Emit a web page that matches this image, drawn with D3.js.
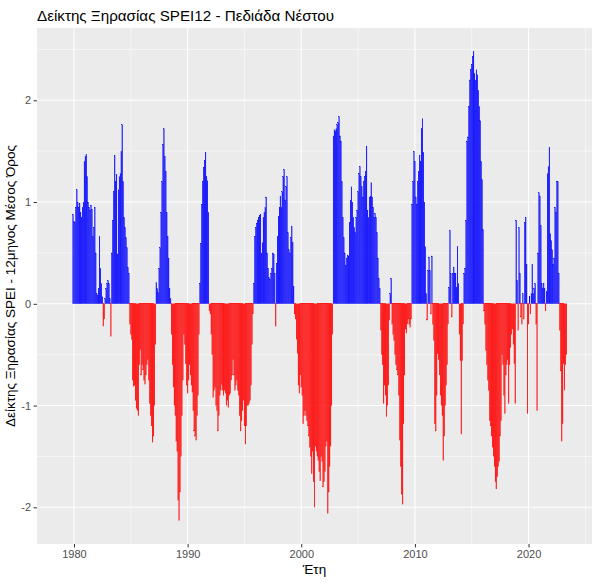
<!DOCTYPE html>
<html>
<head>
<meta charset="utf-8">
<script src="https://cdn.jsdelivr.net/npm/d3@7"></script>
<style>
  body { margin: 0; background: #fff; }
  text { font-family: "Liberation Sans", Arial, sans-serif; }
</style>
</head>
<body>
<div id="chart"></div>
<script>
// monthly SPEI12, series begins Jan 1979 (first 11 months undefined)
var seriesStartYear = 1979;
var spei1979 = [null, null, null, null, null, null, null, null, null, null, null, 0.88];
var spei1980s = [
  0.81, 0.80, 0.95, 1.12, 1.00, 0.95, 0.99, 0.90, 0.85, 0.95, 1.00, 1.40,
  1.45, 1.47, 1.25, 1.00, 0.95, 0.92, 0.97, 0.93, 0.66, 0.75, 0.95, 0.50,
  0.10, 0.08, 0.15, 0.66, 0.35, 0.20, 0.07, -0.22, -0.15, 0.05, 0.15, 0.20,
  0.23, 0.20, 0.05, -0.32, 0.50, 0.82, 1.10, 1.46, 1.20, 1.27, 0.49, 1.12,
  1.25, 1.28, 1.50, 1.76, 1.20, 0.85, 0.75, 0.65, 0.55, 0.36, 0.30, -0.20,
  -0.30, -0.35, -0.75, -0.81, -0.80, -0.95, -1.03, -1.05, -1.10, -0.60, -0.45, -0.70,
  -0.60, -0.65, -0.75, -0.79, -0.70, -0.60, -0.55, -0.75, -0.98, -1.10, -1.20, -1.36,
  -1.30, -1.00, -0.40, 0.21, 0.15, 0.11, 0.35, 0.55, 0.90, 1.20, 1.57, 1.72,
  1.45, 1.30, 0.90, 0.66, 0.45, 0.15, 0.05, -0.30, -0.60, -0.82, -1.00, -1.10,
  -1.35, -1.45, -1.93, -2.13, -1.85, -1.50, -1.10, -0.75, -0.30, -0.40, -0.59, -0.80
];
var spei1990s = [
  -0.88, -0.75, -0.60, -0.70, -0.80, -0.87, -1.05, -1.25, -1.30, -1.34, -1.10, -0.90,
  -0.30, 0.20, 0.59, 0.98, 1.20, 1.34, 1.41, 1.49, 1.25, 1.21, 0.90, -0.07,
  -0.10, -0.30, -0.50, -0.92, -0.85, -0.82, -1.00, -1.05, -1.25, -1.10, -0.90, -0.85,
  -0.79, -0.85, -0.90, -0.85, -0.88, -1.00, -0.95, -1.02, -0.90, -0.88, -0.75, -0.70,
  -0.55, -0.70, -0.85, -0.80, -0.75, -0.85, -0.90, -1.10, -1.25, -1.15, -1.05, -0.95,
  -1.20, -1.38, -1.20, -1.00, -1.00, -0.98, -0.95, -0.80, -0.40, -0.10, 0.20, 0.66,
  0.75, 0.79, 0.82, 0.85, 0.87, 0.88, 0.50, 0.60, 0.85, 0.90, 0.95, 1.05,
  0.50, 0.35, 0.26, 0.24, 0.30, 0.35, 0.50, 0.49, 0.30, -0.22, 0.40, 0.66,
  0.86, 0.95, 1.06, 0.95, 1.10, 1.25, 1.32, 1.02, 1.15, 1.25, 0.70, 0.53,
  0.50, 0.65, 0.76, 0.60, 0.17, -0.10, -0.15, -0.35, -0.49, -0.80, -0.88, -0.70
];
var spei2000s = [
  -0.82, -0.90, -1.18, -1.10, -1.05, -1.10, -1.15, -1.20, -1.30, -1.41, -1.50, -1.67,
  -1.45, -1.75, -2.00, -1.40, -1.45, -1.50, -1.54, -1.65, -1.74, -1.50, -1.55, -1.80,
  -1.75, -1.65, -1.40, -1.35, -2.06, -1.85, -1.60, -1.40, -1.00, -0.30, 1.65, 1.71,
  1.70, 1.72, 1.76, 1.78, 1.84, 1.65, 1.60, 1.20, 0.85, 0.65, 0.50, 0.38,
  0.45, 0.48, 0.47, 0.80, 1.02, 1.15, 1.00, 0.85, 0.75, 0.70, 0.85, 0.92,
  1.10, 1.28, 1.35, 1.25, 1.15, 1.05, 1.20, 1.25, 1.30, 1.55, 0.92, 0.85,
  1.05, 1.06, 1.19, 1.05, 0.95, 0.85, 0.89, 0.85, 0.70, 0.45, 0.25, 0.15,
  -0.26, -0.50, -0.60, -0.98, -0.80, -0.90, -1.11, -1.00, -0.80, -0.16, 0.10, 0.25,
  -0.20, -0.30, -0.36, -0.50, -0.60, -0.65, -0.70, -0.90, -1.34, -1.60, -1.87, -1.97,
  -1.18, -0.70, -0.25, -0.29, -0.20, -0.15, -0.20, -0.23, -0.15, 0.98, 1.20, 1.50
];
var spei2010s = [
  1.40, 1.05, 0.98, 1.20, 1.30, 1.46, 1.40, 1.72, 1.82, 1.49, 1.00, 0.56,
  0.10, -0.16, 0.33, 0.46, 0.33, -0.10, 0.47, -0.20, -0.36, -1.18, -1.25, -0.90,
  -0.49, -0.55, -0.70, -0.90, -1.00, -1.10, -1.54, -1.30, -1.00, -0.80, -0.60, -0.20,
  0.16, 0.72, 0.30, -0.13, 0.30, 0.36, 0.30, 0.30, 0.16, 0.56, 0.20, -0.30,
  -0.56, -1.28, -0.56, -0.20, 0.30, 0.35, 0.82, 1.60, 1.64, 1.94, 2.20, 2.30,
  2.35, 2.43, 2.48, 2.26, 2.20, 2.30, 2.25, 2.10, 1.94, 1.80, 1.40, 1.22,
  0.73, -0.07, -0.20, -0.46, -0.60, -0.75, -0.85, -1.15, -1.20, -1.30, -1.41, -1.50,
  -1.60, -1.75, -1.82, -1.70, -1.60, -1.55, -1.30, -1.15, -0.50, -0.60, -0.90, -1.08,
  -0.70, -0.60, -0.55, -0.98, -0.60, -0.43, -0.30, -0.25, -0.40, -0.59, -0.98, 0.82,
  0.23, -0.26, 0.75, 0.30, -0.13, -0.20, 0.10, -0.15, 0.80, 0.85, 0.39, -1.08
];
var spei2020s = [
  -0.20, 0.07, -0.10, 0.10, 0.39, 0.10, 0.15, 0.20, -0.20, -1.05, 0.50, 1.09,
  1.06, 0.77, 0.20, 0.15, 0.20, 0.15, -0.07, 0.12, 1.28, 1.35, 1.54, 0.69,
  0.62, 0.53, 0.39, 0.45, 0.95, 0.90, 1.20, 1.20, 0.30, -0.26, -0.66, -1.35,
  -1.18, -0.59, -0.85, -0.60, -0.50
];

var xTickYears = [1980, 1990, 2000, 2010, 2020];
var yTickValues = [-2, -1, 0, 1, 2];
var titleText = "Δείκτης Ξηρασίας SPEI12 - Πεδιάδα Νέστου";
var xTitleText = "Έτη";
var yTitleText = "Δείκτης Ξηρασίας SPEI - 12μηνος Μέσος Όρος";

var W = 600, H = 584;
var panel = {l: 37, t: 28, r: 592, b: 544};

var values = [].concat(spei1979, spei1980s, spei1990s, spei2000s, spei2010s, spei2020s);
var data = values.map(function(v, i) {
  return {date: new Date(seriesStartYear, i, 1), v: v};
});
var bars = data.filter(function(d) { return d.v !== null; });

var DAY = 86400000;
var halfW = 0.45 * 28 * DAY;   // ggplot col width 0.9 * resolution
var tMin = +data[0].date - halfW, tMax = +data[data.length - 1].date + halfW;
var tPad = (tMax - tMin) * 0.05;

var x = d3.scaleTime()
  .domain([new Date(tMin - tPad), new Date(tMax + tPad)])
  .range([panel.l, panel.r]);

var vExt = d3.extent(bars, function(d) { return d.v; });
var vPad = (vExt[1] - vExt[0]) * 0.05;
var y = d3.scaleLinear()
  .domain([vExt[0] - vPad, vExt[1] + vPad])
  .range([panel.b, panel.t]);

var svg = d3.select('#chart').append('svg')
  .attr('width', W)
  .attr('height', H);

svg.append('rect')
  .attr('x', panel.l).attr('y', panel.t)
  .attr('width', panel.r - panel.l).attr('height', panel.b - panel.t)
  .attr('fill', '#EBEBEB');

// grid
var grid = svg.append('g').attr('class', 'grid');
var minorYears = xTickYears.map(function(d) { return d - 5; }).concat([xTickYears[xTickYears.length - 1] + 5])
  .filter(function(yr) { var t = x(new Date(yr, 0, 1)); return t >= panel.l && t <= panel.r; });
var minorY = [-2.5, -1.5, -0.5, 0.5, 1.5, 2.5]
  .filter(function(v) { return y(v) >= panel.t && y(v) <= panel.b; });

grid.selectAll('line.mx').data(minorYears).enter().append('line')
  .attr('x1', function(d) { return x(new Date(d, 0, 1)); })
  .attr('x2', function(d) { return x(new Date(d, 0, 1)); })
  .attr('y1', panel.t).attr('y2', panel.b)
  .attr('stroke', '#fff').attr('stroke-width', 0.55);
grid.selectAll('line.my').data(minorY).enter().append('line')
  .attr('x1', panel.l).attr('x2', panel.r)
  .attr('y1', function(d) { return y(d); }).attr('y2', function(d) { return y(d); })
  .attr('stroke', '#fff').attr('stroke-width', 0.55);
grid.selectAll('line.Mx').data(xTickYears).enter().append('line')
  .attr('x1', function(d) { return x(new Date(d, 0, 1)); })
  .attr('x2', function(d) { return x(new Date(d, 0, 1)); })
  .attr('y1', panel.t).attr('y2', panel.b)
  .attr('stroke', '#fff').attr('stroke-width', 1.1);
grid.selectAll('line.My').data(yTickValues).enter().append('line')
  .attr('x1', panel.l).attr('x2', panel.r)
  .attr('y1', function(d) { return y(d); }).attr('y2', function(d) { return y(d); })
  .attr('stroke', '#fff').attr('stroke-width', 1.1);

// bars
svg.append('g').attr('class', 'bars').selectAll('rect')
  .data(bars).enter()
  .append('rect')
    .attr('x', function(d) { return x(new Date(+d.date - halfW)); })
    .attr('width', function(d) { return x(new Date(+d.date + halfW)) - x(new Date(+d.date - halfW)); })
    .attr('y', function(d) { return y(Math.max(0, d.v)); })
    .attr('height', function(d) { return Math.abs(y(d.v) - y(0)); })
    .attr('fill', function(d) { return d.v >= 0 ? 'blue' : 'red'; })
    .attr('stroke', function(d) { return d.v >= 0 ? 'blue' : 'red'; })
    .attr('stroke-width', 0.2);

// axes
var xAxis = d3.axisBottom(x)
  .tickValues(xTickYears.map(function(yr) { return new Date(yr, 0, 1); }))
  .tickFormat(d3.timeFormat('%Y'))
  .tickSize(3.5).tickPadding(2.5);
var yAxis = d3.axisLeft(y)
  .tickValues(yTickValues)
  .tickFormat(function(d) { return String(d); })
  .tickSize(3.5).tickPadding(2.5);

svg.append('g').attr('class', 'axis x')
  .attr('transform', 'translate(0,' + panel.b + ')')
  .call(xAxis)
  .call(function(g) { g.select('.domain').remove(); });
svg.append('g').attr('class', 'axis y')
  .attr('transform', 'translate(' + panel.l + ',0)')
  .call(yAxis)
  .call(function(g) { g.select('.domain').remove(); });

svg.selectAll('.axis line').attr('stroke', '#333333').attr('stroke-width', 1);
svg.selectAll('.axis text')
  .attr('fill', '#4D4D4D')
  .style('font-size', '11px')
  .style('font-family', '"Liberation Sans", Arial, sans-serif');

// titles
svg.append('text')
  .attr('x', (panel.l + panel.r) / 2).attr('y', 574)
  .attr('text-anchor', 'middle')
  .style('font-size', '13.5px')
  .attr('fill', '#000')
  .text(xTitleText);

svg.append('text')
  .attr('transform', 'translate(15,' + ((panel.t + panel.b) / 2) + ') rotate(-90)')
  .attr('text-anchor', 'middle')
  .style('font-size', '13.5px')
  .attr('fill', '#000')
  .text(yTitleText);

svg.append('text')
  .attr('x', panel.l).attr('y', 21)
  .style('font-size', '15.2px')
  .attr('fill', '#000')
  .text(titleText);
</script>
</body>
</html>
